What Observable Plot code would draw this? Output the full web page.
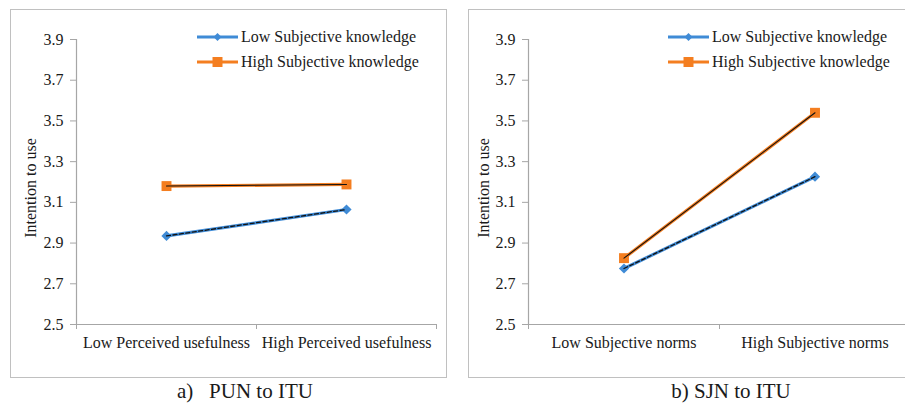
<!DOCTYPE html>
<html>
<head>
<meta charset="utf-8">
<script src="https://cdn.jsdelivr.net/npm/d3@7"></script>
<script src="https://cdn.jsdelivr.net/npm/@observablehq/plot@0.6"></script>
<style>
  html, body { margin: 0; padding: 0; background: #fff; }
  body { width: 905px; height: 404px; overflow: hidden; position: relative;
         font-family: "Liberation Serif", "DejaVu Serif", serif; color: #1a1a1a; }
  .panel { position: absolute; top: 9px; height: 367px; border: 1px solid #c0c0c0; background: #fff; }
  .panel svg { position: absolute; left: 0; top: 0; }
  .legend { position: absolute; font-size: 16px; line-height: 16px; white-space: nowrap; }
  .legend .item { position: absolute; left: 0; height: 16px; display: flex; align-items: center; }
  .legend svg { position: static; margin-right: 3px; }
  .caption { position: absolute; top: 381px; font-size: 21px; line-height: 21px; white-space: pre; transform: translateX(-50%); }
</style>
</head>
<body>
<script>
// ---- data ----
const seriesNames = ["Low Subjective knowledge", "High Subjective knowledge"];
const panelACategories = ["Low Perceived usefulness", "High Perceived usefulness"];
const panelALow = [2.935, 3.065];
const panelAHigh = [3.180, 3.188];
const panelBCategories = ["Low Subjective norms", "High Subjective norms"];
const panelBLow = [2.775, 3.226];
const panelBHigh = [2.826, 3.540];
const yTicks = [2.5, 2.7, 2.9, 3.1, 3.3, 3.5, 3.7, 3.9];
const yLabel = "Intention to use";
const captions = ["a)   PUN to ITU", "b) SJN to ITU"];

// ---- styles ----
const colors = ["#3f8bd6", "#f47e20"];
const axisColor = "#a6a6a6";
const font = "'Liberation Serif', 'DejaVu Serif', serif";

function buildRows(categories, low, high) {
  const rows = [];
  categories.forEach((c, i) => {
    rows.push({series: seriesNames[0], pos: i + 0.5, value: low[i]});
    rows.push({series: seriesNames[1], pos: i + 0.5, value: high[i]});
  });
  return rows;
}

function makePanel(categories, low, high, opts) {
  const rows = buildRows(categories, low, high);
  const lowRows = rows.filter(d => d.series === seriesNames[0]);
  const highRows = rows.filter(d => d.series === seriesNames[1]);
  const n = categories.length;
  return Plot.plot({
    width: opts.width,
    height: 367,
    marginLeft: opts.marginLeft,
    marginRight: opts.marginRight,
    marginTop: 29,
    marginBottom: 53,
    style: {fontFamily: font, fontSize: "16px", color: "#1a1a1a", background: "transparent", overflow: "visible"},
    x: {domain: [0, n], axis: null},
    y: {domain: [yTicks[0], yTicks[yTicks.length - 1]], axis: null},
    color: {domain: seriesNames, range: colors},
    marks: [
      Plot.ruleX([0], {y1: yTicks[0], y2: yTicks[yTicks.length - 1], stroke: axisColor, strokeWidth: 1.2}),
      Plot.ruleY([yTicks[0]], {x1: 0, x2: n, stroke: axisColor, strokeWidth: 1.2}),
      Plot.axisY({ticks: yTicks, tickSize: 6, tickPadding: 7, tickFormat: d3.format(".1f"), stroke: axisColor, fill: "#1a1a1a", label: null, fontSize: 16, fontFamily: font}),
      Plot.axisX({ticks: d3.range(n + 1), tickSize: 5, tickFormat: () => "", stroke: axisColor, label: null}),
      Plot.axisX({ticks: categories.map((c, i) => i + 0.5), tickSize: 0, tickPadding: 12, tickFormat: v => categories[Math.floor(v)], fill: "#1a1a1a", label: null, fontSize: 16, fontFamily: font}),
      Plot.text([yLabel], {frameAnchor: "left", textAnchor: "middle", rotate: -90, dx: -opts.labelOffset, dy: 6, fontSize: 16, fontFamily: font, fill: "#1a1a1a"}),
      Plot.line(rows, {x: "pos", y: "value", z: "series", stroke: "series", strokeWidth: 3.2}),
      Plot.dot(lowRows, {x: "pos", y: "value", symbol: "diamond2", r: 4.6, fill: colors[0], stroke: "none"}),
      Plot.dot(highRows, {x: "pos", y: "value", symbol: "square", r: 5.6, fill: colors[1], stroke: "none"}),
      Plot.line(lowRows, {x: "pos", y: "value", stroke: "#111", strokeWidth: 1.3, strokeDasharray: "4,2.5"}),
      Plot.line(highRows, {x: "pos", y: "value", stroke: "#111", strokeWidth: 1.1})
    ]
  });
}

function legendSample(i) {
  const ns = "http://www.w3.org/2000/svg";
  const svg = document.createElementNS(ns, "svg");
  svg.setAttribute("width", 41); svg.setAttribute("height", 12);
  const line = document.createElementNS(ns, "line");
  line.setAttribute("x1", 0); line.setAttribute("x2", 41);
  line.setAttribute("y1", 6); line.setAttribute("y2", 6);
  line.setAttribute("stroke", colors[i]); line.setAttribute("stroke-width", 3.2);
  svg.appendChild(line);
  const m = document.createElementNS(ns, "path");
  m.setAttribute("d", i === 0 ? "M20.5,2L24.5,6L20.5,10L16.5,6Z" : "M15.5,1H25.5V11H15.5Z");
  m.setAttribute("fill", colors[i]);
  svg.appendChild(m);
  return svg;
}

function addPanel(left, width, chart, legendLeft) {
  const div = document.createElement("div");
  div.className = "panel";
  div.style.left = left + "px";
  div.style.width = width + "px";
  div.appendChild(chart);
  const leg = document.createElement("div");
  leg.className = "legend";
  leg.style.left = legendLeft + "px";
  leg.style.top = "19px";
  seriesNames.forEach((s, i) => {
    const item = document.createElement("div");
    item.className = "item";
    item.style.top = (i * 25) + "px";
    item.appendChild(legendSample(i));
    const t = document.createElement("span");
    t.textContent = s;
    item.appendChild(t);
    leg.appendChild(item);
  });
  div.appendChild(leg);
  document.body.appendChild(div);
}

const chartA = makePanel(panelACategories, panelALow, panelAHigh, {width: 435, marginLeft: 65, marginRight: 10, labelOffset: 46});
addPanel(10, 435, chartA, 186);
const chartB = makePanel(panelBCategories, panelBLow, panelBHigh, {width: 441, marginLeft: 59, marginRight: 0, labelOffset: 45});
addPanel(468, 441, chartB, 199);

[[captions[0], 245], [captions[1], 731]].forEach(([txt, x]) => {
  const c = document.createElement("div");
  c.className = "caption";
  c.style.left = x + "px";
  c.textContent = txt;
  document.body.appendChild(c);
});
</script>
</body>
</html>
